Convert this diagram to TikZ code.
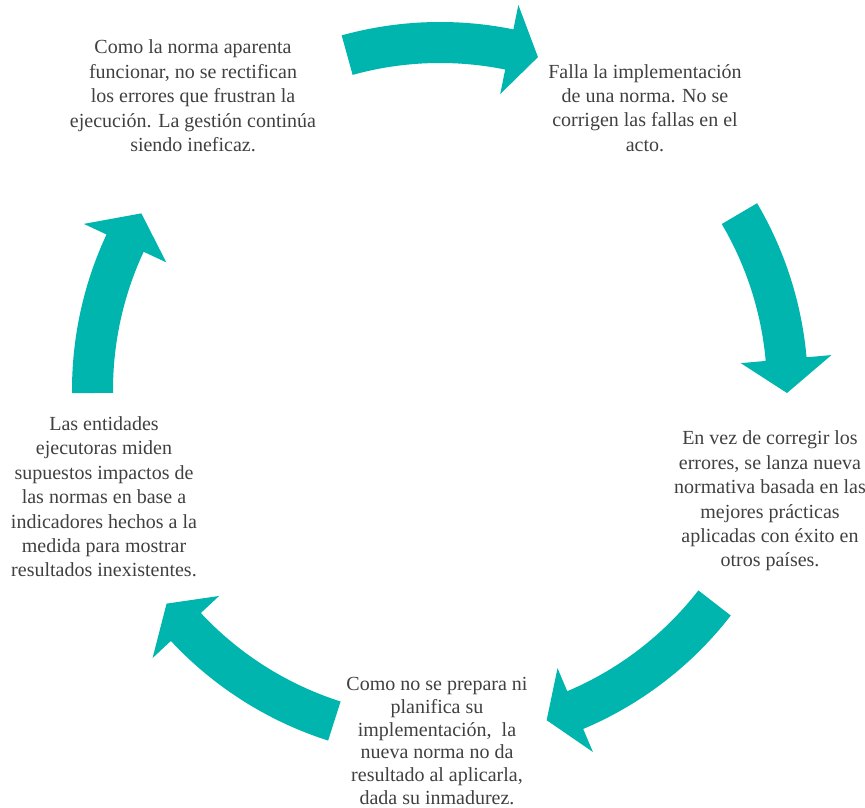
\documentclass[tikz,border=0pt]{standalone}
\usepackage{fontspec}
\setmainfont{Liberation Serif}
\usepackage{xcolor}
\usepackage{tikz}

\definecolor{cycleteal}{RGB}{0,181,173}
\definecolor{textgray}{RGB}{64,64,64}

\begin{document}
\begin{tikzpicture}[x=0.5pt, y=0.5pt,
  stage/.style={align=center, text=textgray, inner sep=0pt, font=\fontsize{10}{12.2}\selectfont},
  cyclearrow/.style={fill=cycleteal}]

  \useasboundingbox (0,0) rectangle (865,807);
  \coordinate (c) at (440,417);

  \node[stage] (falla) at (645,699) {Falla la implementación\\de una norma. No se\\corrigen las fallas en el\\acto.};
  \node[stage] (lanza) at (770,306) {En vez de corregir los\\errores, se lanza nueva\\normativa basada en las\\mejores prácticas\\aplicadas con éxito en\\otros países.};
  \node[stage, font=\fontsize{10}{11.4}\selectfont] (prepara) at (437,66) {Como no se prepara ni\\planifica su\\implementación,\ \ la\\nueva norma no da\\resultado al aplicarla,\\dada su inmadurez.};
  \node[stage] (miden) at (104,310) {Las entidades\\ejecutoras miden\\supuestos impactos de\\las normas en base a\\indicadores hechos a la\\medida para mostrar\\resultados inexistentes.};
  \node[stage] (aparenta) at (193,711) {Como la norma aparenta\\funcionar, no se rectifican\\los errores que frustran la\\ejecución. La gestión continúa\\siendo ineficaz.};

  % tail / head base / tip angles round (c)
  \foreach \a/\b/\t in {105.5/78.5/73.6, 30.5/5.1/-0.5, -37.8/-67.1/-72.1, -107.7/-137/-142, 180.5/155/149.4}
    \fill[cyclearrow, shift={(c)}] plot[domain=\a:\b, samples=40] (\x:368) -- (\b:393) -- (\t:347)
      -- (\b:302) -- (\b:327) -- plot[domain=\b:\a, samples=40] (\x:327) -- cycle;

\end{tikzpicture}
\end{document}
